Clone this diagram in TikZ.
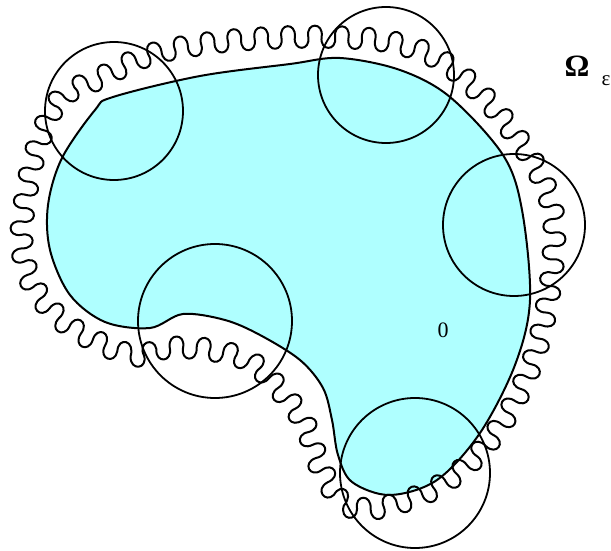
\RequirePackage{fix-cm}
\documentclass[tikz,border=0pt]{standalone}
\usepackage{fontspec}
\newfontfamily\labfont{Liberation Serif}
\usetikzlibrary{decorations}
\definecolor{blobcyan}{RGB}{175,255,255}
\newdimen\lobew
\newdimen\lobea
\pgfdeclaredecoration{lobes}{init}{
  \state{init}[width=0pt, next state=up, persistent precomputation={%
     \pgfmathsetmacro\lobenum{2*round(\pgfdecoratedpathlength/\pgfdecorationsegmentlength)}%
     \pgfmathsetlength\lobew{\pgfdecoratedpathlength/(\lobenum+0.002)}%
     \pgfmathsetlength\lobea{1.4*\pgfdecorationsegmentamplitude}%
  }]{}
  \state{up}[switch if less than=0.5\lobew to final, width=\lobew, next state=down]{
    \pgfpathcurveto{\pgfpoint{-0.16\lobew}{\lobea}}{\pgfpoint{1.16\lobew}{\lobea}}{\pgfpoint{\lobew}{0pt}}
  }
  \state{down}[switch if less than=0.5\lobew to final, width=\lobew, next state=up]{
    \pgfpathcurveto{\pgfpoint{-0.16\lobew}{-\lobea}}{\pgfpoint{1.16\lobew}{-\lobea}}{\pgfpoint{\lobew}{0pt}}
  }
  \state{final}{\pgfpathlineto{\pgfpointdecoratedpathlast}}
}
\begin{document}
\begin{tikzpicture}[x=1pt,y=-1pt,
  line/.style={line width=2pt, line join=round},
  wavy/.style={line width=2pt, line join=round, decorate, decoration={lobes, segment length=27, amplitude=10.5}},
  disc/.style={line width=1.8pt},
  lab/.style={inner sep=0pt}]
\useasboundingbox (0,0) rectangle (611,551);
% Omega_0
\filldraw[line, fill=blobcyan] plot[smooth cycle, tension=0.55] coordinates {
 (113,97) (200,76) (290,64) (340,58) (400,70) (450,97) (503,155) (522,210)
 (530,300) (515,365) (480,433) (437,480) (390,495) (352,482) (338,455)
 (332,420) (323,388) (300,360) (260,335) (225,320) (183,314) (150,328)
 (105,322) (70,295) (50,250) (48,205) (62,158) (95,110)};
% Omega_epsilon
\draw[wavy] plot[smooth cycle, tension=0.6] coordinates {
 (60,100) (100,78) (150,55) (210,43) (270,38) (330,37) (390,42) (440,60)
 (482,95) (515,135) (540,175) (553,215) (553,260) (546,310) (533,360)
 (510,410) (480,452) (445,482) (410,499) (375,508) (345,503) (322,470)
 (305,425) (280,390) (250,362) (210,350) (170,348) (138,355) (100,343)
 (62,320) (33,285) (22,243) (26,195) (38,145)};
% circles
\draw[disc] (114,111) circle (69);
\draw[disc] (386,75) circle (68);
\draw[disc] (514,225) circle (71);
\draw[disc] (215,321) circle (77);
\draw[disc] (415,473) circle (75);
% labels
\node[lab, font=\labfont\bfseries\fontsize{31}{34}\selectfont] (om) at (577,66) {Ω};
\node[lab, font=\labfont\fontsize{21}{24}\selectfont] (eps) at (606,81) {ε};
\node[lab, font=\labfont\fontsize{22}{26}\selectfont] (zero) at (443,330) {0};
\end{tikzpicture}
\end{document}
